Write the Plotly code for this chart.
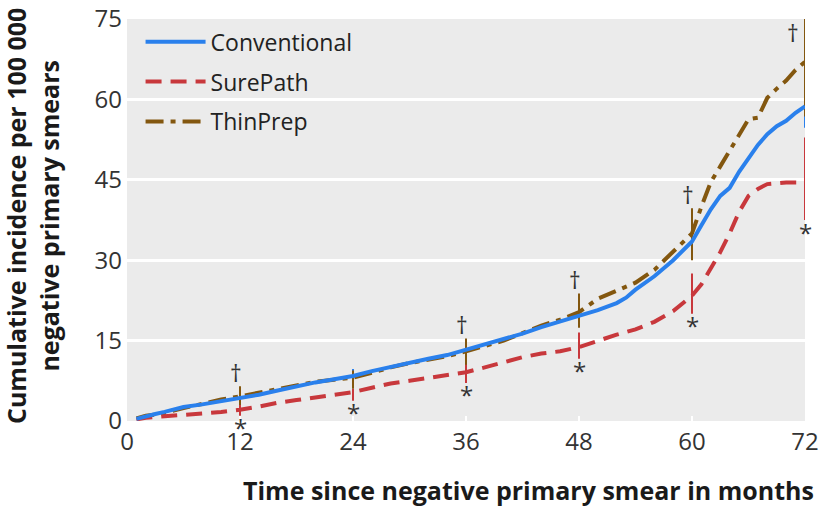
import plotly.graph_objects as go

# ---------------- data ----------------
conv_t = [1, 2, 3, 4, 5, 6, 8, 10, 12, 14, 16, 18, 20, 22, 24, 26, 28, 30, 32, 34, 36, 38, 40, 42, 44,
          46, 48, 50, 52, 53, 54, 56, 58, 60, 61, 62, 63, 64, 65, 66, 67, 68, 69, 70, 71, 72]
conv_v = [0.4, 0.9, 1.3, 1.7, 2.2, 2.6, 3.1, 3.7, 4.2, 4.9, 5.7, 6.5, 7.2, 7.8, 8.4, 9.3, 10.1, 10.9, 11.6,
          12.3, 13.3, 14.2, 15.2, 16.3, 17.5, 18.6, 19.7, 20.7, 22.0, 23.0, 24.5, 27.0, 30.0, 33.5, 36.5,
          39.5, 42.0, 43.5, 46.5, 49.0, 51.5, 53.5, 55.0, 56.0, 57.5, 58.7]

sure_t = [1, 2, 4, 6, 8, 10, 12, 14, 16, 18, 20, 22, 24, 26, 28, 30, 32, 34, 36, 38, 40, 42, 44, 46, 48,
          50, 52, 54, 56, 58, 60, 61, 62, 63, 64, 65, 66, 67, 68, 70, 72]
sure_v = [0.3, 0.6, 0.9, 1.1, 1.4, 1.7, 2.1, 2.7, 3.4, 3.9, 4.4, 4.8, 5.4, 6.2, 7.0, 7.5, 8.0, 8.6, 9.1,
          10.0, 11.0, 11.9, 12.6, 13.0, 13.8, 15.0, 16.1, 17.1, 18.5, 20.5, 23.4, 25.5, 28.5, 31.5, 35.0,
          39.0, 42.0, 43.3, 44.2, 44.5, 44.5]

thin_t = [1, 2, 3, 4, 6, 8, 10, 12, 14, 16, 18, 20, 22, 24, 26, 28, 30, 32, 34, 36, 38, 40, 42, 44, 46,
          48, 50, 52, 54, 56, 58, 60, 61, 62, 63, 64, 65, 66, 67, 68, 69, 70, 71, 72]
thin_v = [0.5, 1.0, 1.2, 1.5, 2.4, 3.2, 4.0, 4.6, 5.3, 5.9, 6.7, 7.3, 7.7, 8.1, 9.0, 10.0, 10.8, 11.4,
          12.1, 13.0, 14.0, 15.0, 16.4, 17.8, 18.9, 20.3, 22.8, 24.3, 25.8, 28.2, 31.5, 35.0, 40.0, 44.6,
          47.5, 50.5, 53.5, 56.3, 56.6, 60.3, 62.0, 63.5, 65.5, 67.0]

# confidence intervals at yearly time points
ci_t = [12, 24, 36, 48, 60, 72]
conv_lo = [3.5, 7.1, 11.8, 18.2, 31.5, 54.7]
conv_hi = [5.0, 9.7, 14.4, 21.6, 36.2, 63.2]
sure_lo = [1.0, 3.8, 7.1, 11.6, 20.0, 37.5]
sure_hi = [3.0, 6.0, 10.9, 16.5, 27.5, 52.9]
thin_lo = [3.0, 6.0, 10.5, 17.4, 30.0, 56.8]
thin_hi = [6.5, 9.4, 15.4, 23.8, 39.7, 75.0]

# significance markers
dagger_t = [12, 36, 48, 60, 72]
star_t = [12, 24, 36, 48, 60, 72]

x_ticks = [0, 12, 24, 36, 48, 60, 72]
y_ticks = [0, 15, 30, 45, 60, 75]

# ---------------- styles ----------------
C_CONV = "#2a80ec"
C_SURE = "#c8383c"
C_THIN = "#83570f"
BG = "#ebebeb"
FONT = "Open Sans"

fig = go.Figure()


def at(ts, vs, t):
    return vs[ts.index(t)]


series = [
    ("Conventional", conv_t, conv_v, conv_lo, conv_hi, C_CONV, "solid"),
    ("SurePath", sure_t, sure_v, sure_lo, sure_hi, C_SURE, "16px,9px"),
    ("ThinPrep", thin_t, thin_v, thin_lo, thin_hi, C_THIN, "18px,7px,5px,7px"),
]

# error bars (drawn first, under the lines)
for name, ts, vs, lo, hi, col, dash in series:
    centre = [at(ts, vs, t) for t in ci_t]
    fig.add_trace(go.Scatter(
        x=ci_t, y=centre, mode="markers", showlegend=False, hoverinfo="skip",
        marker=dict(size=1, color="rgba(0,0,0,0)"),
        error_y=dict(type="data", symmetric=False,
                     array=[h - c for h, c in zip(hi, centre)],
                     arrayminus=[c - l for c, l in zip(centre, lo)],
                     color=col, thickness=2, width=0),
    ))

# curves (legend order: Conventional, SurePath, ThinPrep); draw blue on top
for idx in [2, 1, 0]:
    name, ts, vs, lo, hi, col, dash = series[idx]
    fig.add_trace(go.Scatter(
        x=ts, y=vs, mode="lines", name=name, legendrank=idx + 1, legendgroup=name,
        line=dict(color=col, width=4, dash=dash),
    ))

MARK_FONT = dict(family=FONT, size=23, color="#333333")
annotations = []
for t in dagger_t:
    hi = thin_hi[ci_t.index(t)]
    if t == 72:
        annotations.append(dict(x=t, y=hi, xref="x", yref="y", text="†", showarrow=False,
                                xanchor="center", yanchor="middle", xshift=-12, yshift=-14,
                                font=MARK_FONT))
    else:
        annotations.append(dict(x=t, y=hi, xref="x", yref="y", text="†", showarrow=False,
                                xanchor="center", yanchor="middle", xshift=-4, yshift=13,
                                font=MARK_FONT))
for t in star_t:
    lo = sure_lo[ci_t.index(t)]
    annotations.append(dict(x=t, y=lo, xref="x", yref="y", text="*", showarrow=False,
                            xanchor="center", yanchor="middle", yshift=-12,
                            font=dict(family=FONT, size=24, color="#333333")))

annotations.append(dict(x=1.0, y=0.0, xref="paper", yref="paper",
                        text="Time since negative primary smear in months",
                        showarrow=False, xanchor="right", yanchor="middle", xshift=11, yshift=-69,
                        font=dict(family=FONT, size=25, color="#1a1a1a", weight="bold")))
annotations.append(dict(x=0.0, y=0.5, xref="paper", yref="paper",
                        text="Cumulative incidence per 100 000<br>negative primary smears",
                        showarrow=False, textangle=-90, xanchor="center", yanchor="middle",
                        xshift=-95, yshift=4,
                        font=dict(family=FONT, size=25, color="#1a1a1a", weight="bold")))

fig.update_layout(
    width=820, height=508,
    margin=dict(l=127, r=15, t=19, b=87),
    paper_bgcolor="white", plot_bgcolor=BG,
    font=dict(family=FONT, color="#333333"),
    showlegend=True,
    legend=dict(x=0.02, y=0.997, xanchor="left", yanchor="top", bgcolor="rgba(0,0,0,0)",
                font=dict(family=FONT, size=23, color="#222222"), itemwidth=60,
                tracegroupgap=7, traceorder="grouped"),
    annotations=annotations,
    xaxis=dict(range=[0, 72], tickvals=x_ticks, ticktext=[str(v) for v in x_ticks],
               showgrid=False, zeroline=False, showline=False, automargin=False,
               ticks="inside", tickcolor="white", ticklen=5, tickwidth=2, ticklabelstandoff=4,
               tickfont=dict(family=FONT, size=24, color="#333333")),
    yaxis=dict(range=[0, 75], tickvals=y_ticks, ticktext=[str(v) for v in y_ticks],
               showgrid=True, gridcolor="white", gridwidth=3, zeroline=False, showline=False,
               ticks="", ticklabelstandoff=4, automargin=False,
               tickfont=dict(family=FONT, size=24, color="#333333")),
)

fig.write_html("out.html", config={"displayModeBar": False},
               post_script="document.body.style.margin='0px';")
